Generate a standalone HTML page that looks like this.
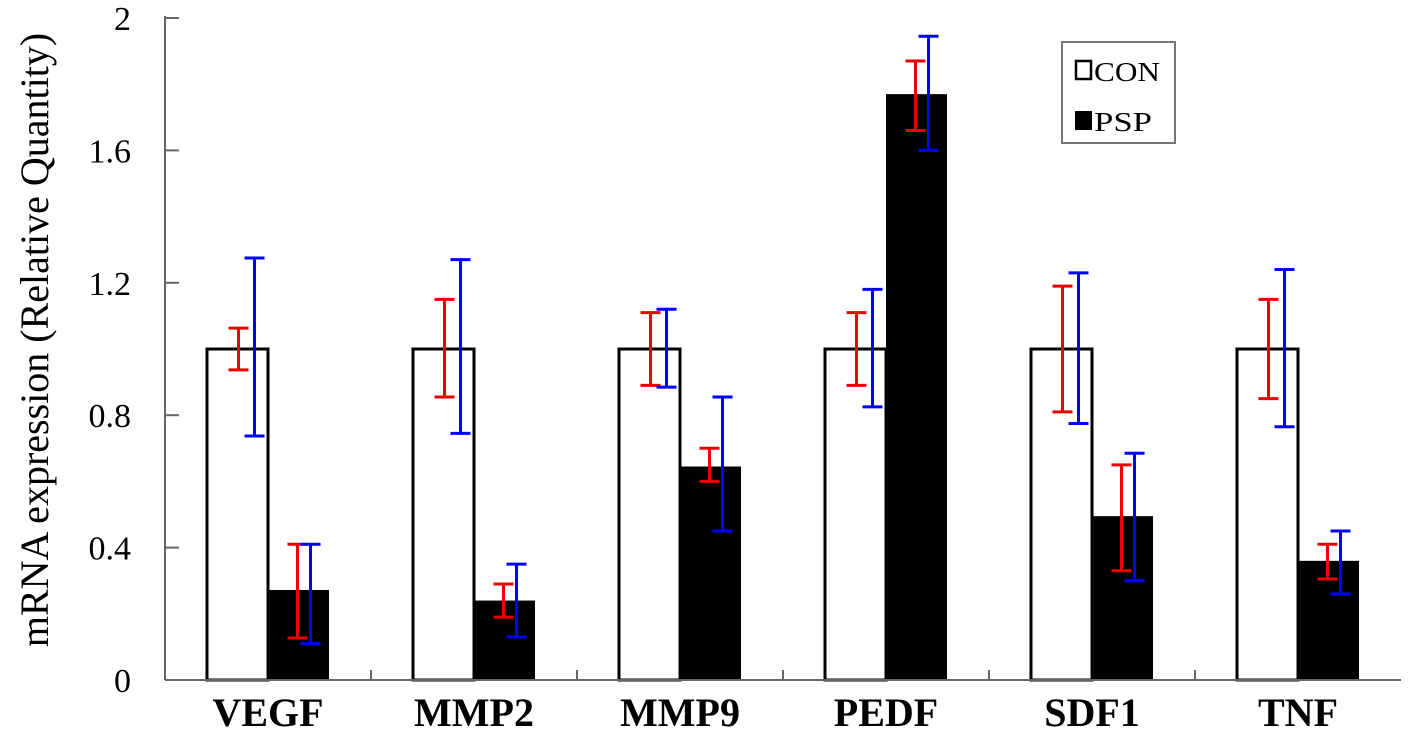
<!DOCTYPE html>
<html><head><meta charset="utf-8"><style>body{margin:0;background:#fff}svg{display:block}text{font-family:"Liberation Serif",serif}</style></head>
<body>
<svg id="chart" width="1408" height="730" xmlns="http://www.w3.org/2000/svg">
<text transform="translate(48,340) rotate(-90)" text-anchor="middle" font-size="40">mRNA expression (Relative Quantity)</text>
<g id="legend">
<rect x="1062" y="42" width="113" height="101" fill="#fff" stroke="#777" stroke-width="2"/>
<rect x="1076" y="61" width="15" height="18" fill="#fff" stroke="#000" stroke-width="2.5"/>
<text x="1094" y="81" font-size="27" textLength="66" lengthAdjust="spacingAndGlyphs">CON</text>
<rect x="1075" y="111" width="17" height="19" fill="#000"/>
<text x="1094" y="131" font-size="27" textLength="58" lengthAdjust="spacingAndGlyphs">PSP</text>
</g>
</svg>
<script>
const categories=["VEGF","MMP2","MMP9","PEDF","SDF1","TNF"];
const conValues=[1,1,1,1,1,1];
const pspValues=[0.272,0.24,0.645,1.77,0.495,0.36];
const conRedHi=[1.063,1.15,1.11,1.11,1.19,1.15];
const conRedLo=[0.937,0.855,0.89,0.89,0.81,0.85];
const conBlueHi=[1.275,1.27,1.12,1.18,1.23,1.24];
const conBlueLo=[0.737,0.745,0.885,0.825,0.775,0.765];
const pspRedHi=[0.41,0.29,0.7,1.87,0.65,0.41];
const pspRedLo=[0.127,0.19,0.6,1.66,0.33,0.305];
const pspBlueHi=[0.41,0.35,0.855,1.945,0.685,0.45];
const pspBlueLo=[0.11,0.13,0.45,1.6,0.3,0.26];
const yTicks=[0,0.4,0.8,1.2,1.6,2];
const yTickLabels=["0","0.4","0.8","1.2","1.6","2"];

const NS="http://www.w3.org/2000/svg";
const svg=document.getElementById('chart');
const X0=165,X1=1401,Y0=680,PX=331;
const gw=(X1-X0)/categories.length;
const y=v=>Y0-v*PX;
const gx=i=>X0+gw*i+gw/2;
function mk(tag,attrs,parent){const e=document.createElementNS(NS,tag);for(const k in attrs)e.setAttribute(k,attrs[k]);(parent||svg).appendChild(e);return e;}
const plot=mk('g',{});


const ya=mk('line',{x1:X0,y1:y(2)-2,x2:X0,y2:Y0,stroke:'#666','stroke-width':2},plot);


yTicks.forEach((t,i)=>{
  const tk=mk('line',{x1:X0,y1:y(t),x2:X0+14,y2:y(t),stroke:'#666','stroke-width':2},plot);
  
  
  const lb=mk('text',{x:X0-34,y:y(t)+12,'text-anchor':'end','font-size':34},plot);
  lb.textContent=yTickLabels[i];
  
  
});
categories.forEach((c,i)=>{
  const cx=gx(i);
  const bw=61;
  const cb=mk('rect',{x:cx-bw,y:y(conValues[i]),width:bw,height:Y0-y(conValues[i]),fill:'#fff',stroke:'#000','stroke-width':3},plot);
  
  
  const pb=mk('rect',{x:cx,y:y(pspValues[i]),width:bw,height:Y0-y(pspValues[i]),fill:'#000'},plot);
  
  
  const errs=[[cx-bw/2+1,conRedHi[i],conRedLo[i],'#e00'],[cx-bw/2+17,conBlueHi[i],conBlueLo[i],'#00f'],
              [cx+bw/2-1,pspRedHi[i],pspRedLo[i],'#e00'],[cx+bw/2+12,pspBlueHi[i],pspBlueLo[i],'#00f']];
  errs.forEach(([ex,hi,lo,col])=>{
    const g=mk('g',{stroke:col,'stroke-width':3},plot);
    
    
    mk('line',{x1:ex,y1:y(hi),x2:ex,y2:y(lo)},g);
    mk('line',{x1:ex-10,y1:y(hi),x2:ex+10,y2:y(hi)},g);
    mk('line',{x1:ex-10,y1:y(lo),x2:ex+10,y2:y(lo)},g);
  });
  const lb=mk('text',{x:cx,y:726,'text-anchor':'middle','font-size':40,'font-weight':'bold'},plot);
  lb.textContent=c;
  
  
  if(i>0){const sp=mk('line',{x1:X0+gw*i,y1:Y0,x2:X0+gw*i,y2:Y0-10,stroke:'#666','stroke-width':2},plot);
  
  }
});
const xa=mk('line',{x1:X0,y1:Y0,x2:X1,y2:Y0,stroke:'#666','stroke-width':2},plot);


svg.appendChild(document.getElementById('legend'));
</script>
</body></html>
